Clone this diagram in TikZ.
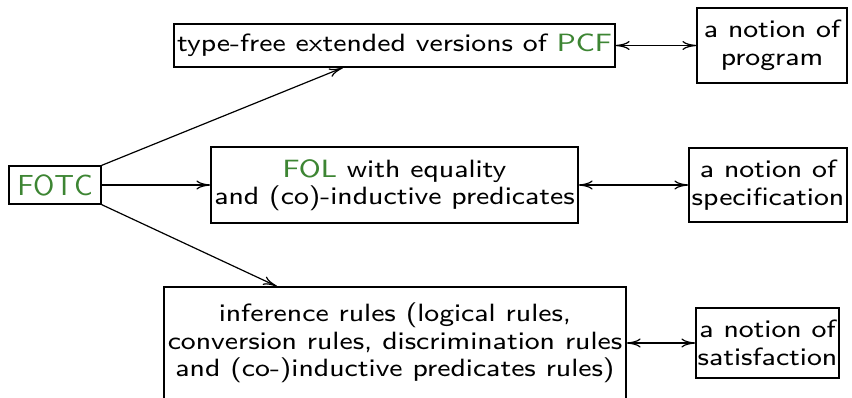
\documentclass[tikz,border=0pt]{standalone}
\usepackage{fontspec}
\newfontfamily\lmsx{lmsans8-regular}[Extension=.otf, FakeStretch=1.12]
\newfontfamily\lmsplain{lmsans10-regular}[Extension=.otf]
\usetikzlibrary{calc,arrows.meta}
\definecolor{fgreen}{RGB}{61,133,51}
\tikzset{
  box/.style={draw, line width=0.6pt, inner sep=0pt, align=center,
    font=\fontsize{12.5}{13.75}\selectfont\lmsx},
  tipx/.tip={Computer Modern Rightarrow[length=7pt,width=4.5pt]},
  conn/.style={line width=0.6pt, -tipx},
  biconn/.style={line width=0.6pt, tipx-tipx}
}
\begin{document}
\begin{tikzpicture}[x=0.5pt,y=-0.5pt]
\useasboundingbox (0,0) rectangle (852,397);
\node[box, minimum width=46pt, minimum height=19pt, font=\fontsize{14.5}{16}\selectfont\lmsplain] (fotc) at (55,185) {\textcolor{fgreen}{FOTC}};
\node[box, minimum width=220.5pt, minimum height=21.5pt] (top) at (394.5,45.5) {type-free extended versions of \textcolor{fgreen}{PCF}};
\node[box, minimum width=75pt, minimum height=37.5pt] (prog) at (772,45.5) {a notion of\\program};
\node[box, minimum width=183.5pt, minimum height=38pt] (mid) at (394.5,185) {\textcolor{fgreen}{FOL} with equality\\and (co)-inductive predicates};
\node[box, minimum width=79pt, minimum height=37pt] (spec) at (768,185) {a notion of\\specification};
\node[box, minimum width=231pt, minimum height=56pt] (bot) at (395,343) {inference rules (logical rules,\\conversion rules, discrimination rules\\and (co-)inductive predicates rules)};
\node[box, minimum width=71.5pt, minimum height=35pt] (sat) at (767.5,343) {a notion of\\satisfaction};
\draw[conn] (fotc.north east) -- ([xshift=-25.75pt]top.south);
\draw[conn] (fotc.east) -- (mid.west);
\draw[conn] (fotc.south east) -- ([xshift=-59pt]bot.north);
\draw[biconn] (top.east) -- (prog.west);
\draw[biconn] (mid.east) -- (spec.west);
\draw[biconn] (bot.east) -- (sat.west);
\end{tikzpicture}
\end{document}
